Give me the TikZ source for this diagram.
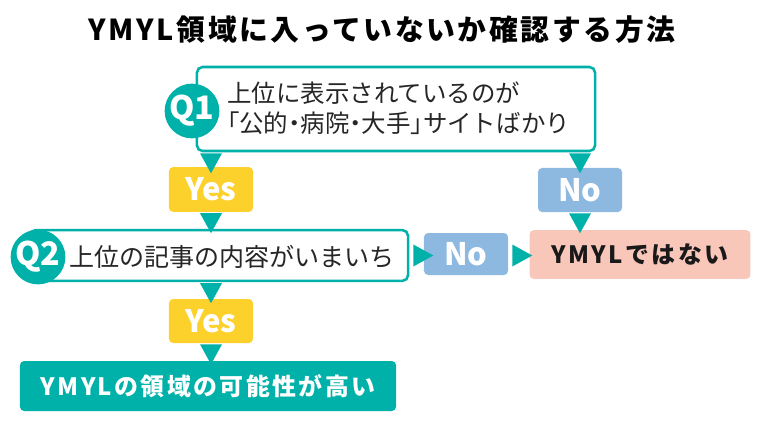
\documentclass[tikz,border=0pt]{standalone}
\usepackage{fontspec}
\setmainfont{Noto Sans CJK JP}[RawFeature={+halt}]
\definecolor{myteal}{HTML}{00B1A9}
\definecolor{myyellow}{HTML}{FDD12B}
\definecolor{myblue}{HTML}{8DB9E1}
\definecolor{mypink}{HTML}{F9C7BA}
\usetikzlibrary{positioning}
\tikzset{
	qbox/.style={draw=myteal, line width=1.8pt, fill=white, rounded corners=4pt, inner sep=0pt}
}
\tikzset{
	qmark/.style={circle, fill=myteal, text=white, inner sep=0pt, minimum size=1.27cm,
		font=\fontsize{23}{23}\selectfont\bfseries}
}
\tikzset{
	tag/.style={rounded corners=3pt, text=white, inner sep=0pt, minimum width=2.1cm,
		font=\fontsize{22}{22}\selectfont\bfseries}
}
\tikzset{
	qtext/.style={anchor=west, inner sep=0pt, align=left, text=black!85,
		font=\fontsize{17.4}{21.3}\selectfont}
}
\tikzset{
	spaced/.style={font=\fontsize{17}{17}\selectfont\bfseries\addfontfeature{LetterSpace=10}}
}

\begin{document}
\begin{tikzpicture}[x=0.025cm, y=-0.025cm]
      \useasboundingbox (0,0) rectangle (760,428);
      \node[font=\fontsize{20.5}{20.5}\selectfont\bfseries\addfontfeature{LetterSpace=9}] (title) at (382,30) {YMYL領域に入っていないか確認する方法};
      % first question
      \node[qbox, minimum width=9.95cm, minimum height=2.1cm] (q1) at (396,109) {};
      \node[qmark] (q1mark) at (192,111) {Q1};
      \node[qtext] (q1text) at (227,108) {上位に表示されているのが\\「公的・病院・大手」サイトばかり};
      \node[tag, fill=myyellow, minimum height=1.12cm] (yes1) at (211,189.5) {Yes};
      \node[tag, fill=myblue, minimum height=1.1cm] (no1) at (580,190) {No};
      % second question
      \node[qbox, minimum width=9.45cm, minimum height=1.27cm] (q2) at (219,255.5) {};
      \node[qmark, minimum size=1.25cm] (q2mark) at (38,257) {Q2};
      \node[qtext, font=\fontsize{17.8}{21.3}\selectfont] (q2text) at (69,257) {上位の記事の内容がいまいち};
      \node[tag, fill=myblue, minimum height=1.05cm] (no2) at (466,254) {No};
      \node[tag, spaced, fill=mypink, text=black!90, minimum width=5.52cm, minimum height=1.22cm] (notymyl) at (640,254.5) {YMYLではない};
      \node[tag, fill=myyellow, minimum height=1.1cm] (yes2) at (211,321) {Yes};
      \node[tag, spaced, fill=myteal, minimum width=9.4cm, minimum height=1.25cm] (ymyl) at (208,386) {YMYLの領域の可能性が高い};
      % triangles between the boxes
      \foreach \a/\c in {q1/yes1, yes1/yes1, q2/yes2, yes2/yes2, q1/no1, no1/no1}
        \fill[myteal] (\a.south -| \c) ++(-11,1) -- ++(22,0) -- ++(-11,20) -- cycle;
      \foreach \a in {q2, no2}
        \fill[myteal] (\a.east |- q2.center) ++(4,-11) -- ++(0,22) -- ++(20,-11) -- cycle;
    \end{tikzpicture}
\end{document}
